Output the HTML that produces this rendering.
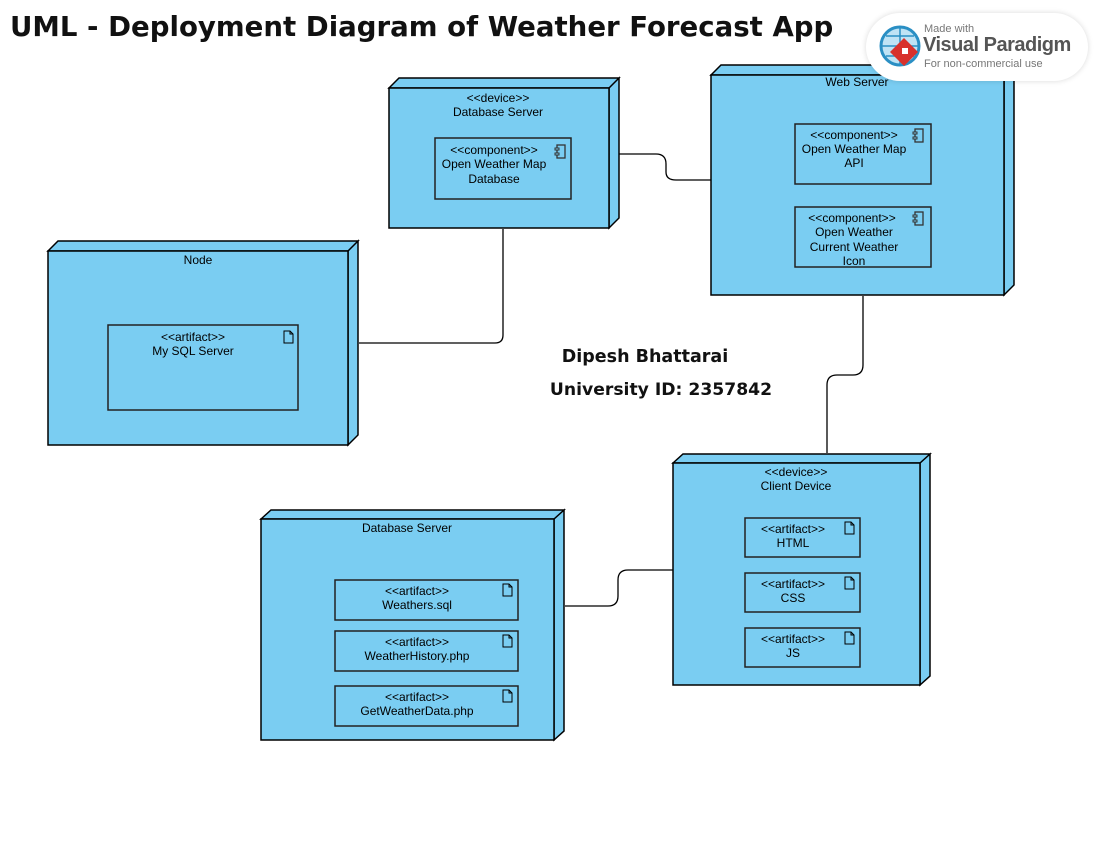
<!DOCTYPE html>
<html><head><meta charset="utf-8"><style>
html,body{margin:0;padding:0;background:#fff;}
body{width:1100px;height:850px;position:relative;overflow:hidden;font-family:"Liberation Sans",sans-serif;}
.title{position:absolute;left:10px;top:10px;font-family:"DejaVu Sans",sans-serif;font-size:27.6px;font-weight:bold;color:#111;letter-spacing:0;white-space:nowrap;}
.badge{position:absolute;left:866px;top:13px;width:222px;height:68px;border-radius:34px;background:#fff;box-shadow:0 0 6px rgba(0,0,0,0.15);}
</style></head><body>
<svg width="1100" height="850" style="position:absolute;left:0;top:0" font-family="Liberation Sans, sans-serif" font-size="12" text-anchor="middle" fill="#000">
<defs>
<g id="doc"><path d="M0 0 H6 L9 3 V12 H0 Z" fill="none" stroke="#000" stroke-width="1"/><path d="M6 0 V3 H9" fill="none" stroke="#000" stroke-width="1"/></g>
<g id="comp"><rect x="2" y="0" width="8" height="13" fill="none" stroke="#333" stroke-width="1.3"/><rect x="0" y="3" width="4" height="2" fill="#7acdf2" stroke="#333"/><rect x="0" y="8" width="4" height="2" fill="#7acdf2" stroke="#333"/></g>
</defs>
<g stroke="#000" stroke-width="1.3" fill="none">
<path d="M609 154 H656 Q666 154 666 164 V172 Q666 180 676 180 H711"/>
<path d="M503 229 V335 Q503 343 495 343 H359"/>
<path d="M863 296 V365 Q863 375 853 375 H837 Q827 375 827 385 V453"/>
<path d="M673 570 H628 Q618 570 618 580 V596 Q618 606 608 606 H565"/>
</g>
<g stroke="#000" stroke-width="1.5" fill="#7acdf2">
<path d="M389 88 L399 78 H619 L609 88 Z M609 88 L619 78 V218 L609 228 Z"/><rect x="389" y="88" width="220" height="140"/>
<path d="M711 75 L721 65 H1014 L1004 75 Z M1004 75 L1014 65 V285 L1004 295 Z"/><rect x="711" y="75" width="293" height="220"/>
<path d="M48 251 L58 241 H358 L348 251 Z M348 251 L358 241 V435 L348 445 Z"/><rect x="48" y="251" width="300" height="194"/>
<path d="M673 463 L683 454 H930 L920 463 Z M920 463 L930 454 V676 L920 685 Z"/><rect x="673" y="463" width="247" height="222"/>
<path d="M261 519 L271 510 H564 L554 519 Z M554 519 L564 510 V731 L554 740 Z"/><rect x="261" y="519" width="293" height="221"/>
</g>
<g stroke="#222" stroke-width="1.5" fill="none">
<rect x="435" y="138" width="136" height="61"/>
<rect x="795" y="124" width="136" height="60"/>
<rect x="795" y="207" width="136" height="60"/>
<rect x="108" y="325" width="190" height="85"/>
<rect x="745" y="518" width="115" height="39"/>
<rect x="745" y="573" width="115" height="39"/>
<rect x="745" y="628" width="115" height="39"/>
<rect x="335" y="580" width="183" height="40"/>
<rect x="335" y="631" width="183" height="40"/>
<rect x="335" y="686" width="183" height="40"/>
</g>
<use href="#comp" x="555" y="145"/><use href="#comp" x="913" y="129"/><use href="#comp" x="913" y="212"/>
<use href="#doc" x="284" y="331"/><use href="#doc" x="845" y="522"/><use href="#doc" x="845" y="577"/><use href="#doc" x="845" y="632"/>
<use href="#doc" x="503" y="584"/><use href="#doc" x="503" y="635"/><use href="#doc" x="503" y="690"/>
<text x="498" y="102">&lt;&lt;device&gt;&gt;</text><text x="498" y="116">Database Server</text>
<text x="494" y="154">&lt;&lt;component&gt;&gt;</text><text x="494" y="168">Open Weather Map</text><text x="494" y="183">Database</text>
<text x="857" y="86">Web Server</text>
<text x="854" y="139">&lt;&lt;component&gt;&gt;</text><text x="854" y="153">Open Weather Map</text><text x="854" y="167">API</text>
<text x="852" y="222">&lt;&lt;component&gt;&gt;</text><text x="854" y="236">Open Weather</text><text x="854" y="251">Current Weather</text><text x="854" y="265">Icon</text>
<text x="198" y="264">Node</text>
<text x="193" y="341">&lt;&lt;artifact&gt;&gt;</text><text x="193" y="355">My SQL Server</text>
<text x="796" y="476">&lt;&lt;device&gt;&gt;</text><text x="796" y="490">Client Device</text>
<text x="793" y="533">&lt;&lt;artifact&gt;&gt;</text><text x="793" y="547">HTML</text>
<text x="793" y="588">&lt;&lt;artifact&gt;&gt;</text><text x="793" y="602">CSS</text>
<text x="793" y="643">&lt;&lt;artifact&gt;&gt;</text><text x="793" y="657">JS</text>
<text x="407" y="532">Database Server</text>
<text x="417" y="595">&lt;&lt;artifact&gt;&gt;</text><text x="417" y="609">Weathers.sql</text>
<text x="417" y="646">&lt;&lt;artifact&gt;&gt;</text><text x="417" y="660">WeatherHistory.php</text>
<text x="417" y="701">&lt;&lt;artifact&gt;&gt;</text><text x="417" y="715">GetWeatherData.php</text>
<text x="645" y="362" font-family="DejaVu Sans, sans-serif" font-size="17.5" font-weight="bold" fill="#111">Dipesh Bhattarai</text>
<text x="661" y="395" font-family="DejaVu Sans, sans-serif" font-size="17.2" font-weight="bold" fill="#111">University ID: 2357842</text>
</svg>
<div class="title">UML - Deployment Diagram of Weather Forecast App</div>
<div class="badge">
<svg width="60" height="60" style="position:absolute;left:8px;top:5px">
<circle cx="26" cy="28" r="19" fill="#bfe3f5" stroke="#2a8fc4" stroke-width="3"/>
<path d="M7 28 H45 M26 9 V47 M12 18 H40 M12 38 H40" stroke="#2a8fc4" stroke-width="1.5" fill="none"/>
<path d="M30 20 L44 34 L30 48 L16 34 Z" fill="#d8312c"/><rect x="28" y="30" width="6" height="6" fill="#fff"/>
</svg>
<div style="position:absolute;left:58px;top:10px;font-size:11px;color:#777">Made with</div>
<div style="position:absolute;left:57px;top:21px;font-size:20px;font-weight:bold;color:#555;letter-spacing:-0.5px">Visual Paradigm</div>
<div style="position:absolute;left:58px;top:45px;font-size:11px;color:#777">For non-commercial use</div>
</div>
</body></html>
